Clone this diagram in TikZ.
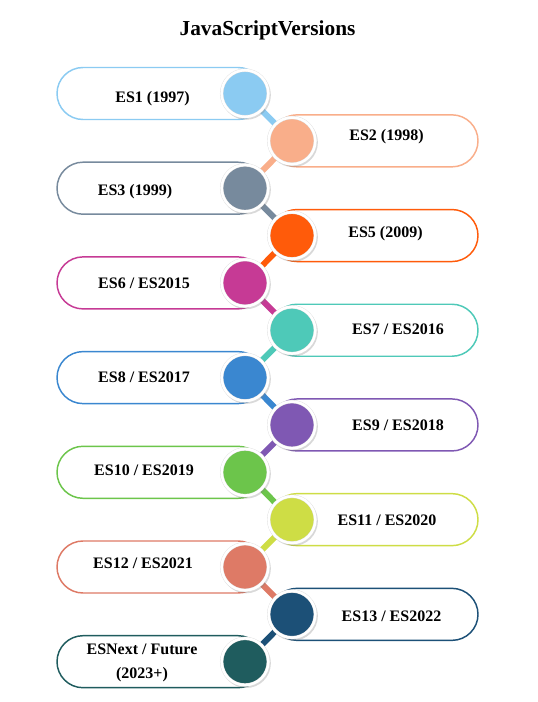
\documentclass[tikz,border=0pt]{standalone}
\usepackage{fontspec}
\setmainfont{Liberation Serif}
\usetikzlibrary{shadows}

% one colour per version
\definecolor{col0}{HTML}{8BCBF2}
\definecolor{col1}{HTML}{F9AE8A}
\definecolor{col2}{HTML}{778A9D}
\definecolor{col3}{HTML}{FF5B0A}
\definecolor{col4}{HTML}{C63A95}
\definecolor{col5}{HTML}{4EC9B8}
\definecolor{col6}{HTML}{3A87D0}
\definecolor{col7}{HTML}{7F58B3}
\definecolor{col8}{HTML}{6CC54B}
\definecolor{col9}{HTML}{CEDD45}
\definecolor{col10}{HTML}{DE7A66}
\definecolor{col11}{HTML}{1C5077}
\definecolor{col12}{HTML}{1F5C5E}

\begin{document}
\begin{tikzpicture}[x=0.75pt, y=-0.75pt,
    every node/.style={font=\bfseries\fontsize{12}{18.4}\selectfont},
    pill/.style={rounded corners=19.5pt, minimum width=155.25pt,
        minimum height=39pt, line width=1.1pt, fill=white, inner sep=0pt},
    dot/.style={circle, minimum size=35pt, inner sep=0pt, draw=black!12,
        line width=0.3pt, double=white, double distance=1.9pt,
        drop shadow={shadow xshift=0.8pt, shadow yshift=-1.1pt,
        shadow scale=1.06, opacity=0.3}},
    link/.style={line width=4.5pt},
    label/.style={align=center}]
    \useasboundingbox (0,0) rectangle (537,702);

    \node[anchor=base, font=\bfseries\fontsize{16}{19}\selectfont] (title)
        at (267.5,35.5) {JavaScriptVersions};

    % Rows alternate left / right; pill, then its label.
    \foreach \i/\cx/\px/\tx/\ty/\txt in {
        0/245/160.5/152.5/98.3/{ES1 (1997)},
        1/292/374.5/386.5/137/{ES2 (1998)},
        2/245/160.5/135/191.7/{ES3 (1999)},
        3/292/374.5/385.5/233.5/{ES5 (2009)},
        4/245/160.5/144/283.5/{ES6 / ES2015},
        5/292/374.5/398/329.5/{ES7 / ES2016},
        6/245/160.5/144/377/{ES8 / ES2017},
        7/292/374.5/398/425/{ES9 / ES2018},
        8/245/160.5/144/470/{ES10 / ES2019},
        9/292/374.5/387/520/{ES11 / ES2020},
        10/245/160.5/143/563/{ES12 / ES2021},
        11/292/374.5/391.5/616/{ES13 / ES2022},
        12/245/160.5/142/663/{ESNext / Future\\(2023+)}%
    }{%
        \pgfmathsetmacro{\cy}{93.5+47.35*\i}
        \coordinate (k\i) at (\cx,\cy);
        \node[pill, draw=col\i] (p\i) at (\px,\cy) {};
        \node[label] (t\i) at (\tx,\ty) {\txt};
    }

    % Links between consecutive circles, in the upper circle's colour.
    \foreach \i [evaluate=\i as \j using int(\i+1)] in {0,...,11}
        \draw[link, draw=col\i] (k\i) -- (k\j);

    % Circles on top
    \foreach \i in {0,...,12}
        \node[dot, fill=col\i] (c\i) at (k\i) {};
\end{tikzpicture}
\end{document}
